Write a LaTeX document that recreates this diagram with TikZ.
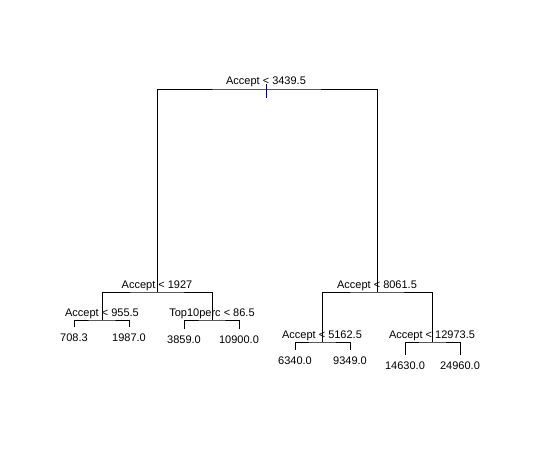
\documentclass[tikz,border=0pt]{standalone}
\usepackage{fontspec}
\setmainfont{Liberation Sans}
\usepackage{tikz}
\usetikzlibrary{positioning}

\begin{document}
\begin{tikzpicture}[
  x=1pt, y=-1pt,
  split/.style={anchor=base, inner sep=0pt, font=\fontsize{11}{13}\selectfont, yshift=4pt},
  leaf/.style={anchor=base, inner sep=0pt, font=\fontsize{11}{13}\selectfont, yshift=-14pt},
  edge/.style={line width=0.9pt, black},
]
\useasboundingbox (0,0) rectangle (535,465);
% split points
\coordinate (root) at (266,89);
\coordinate (lo)   at (157,292);
\coordinate (hi)   at (377,292);
\coordinate (lolo) at (102,320);
\coordinate (lohi) at (212,320);
\coordinate (hilo) at (322,342);
\coordinate (hihi) at (432,342);
% leaf ends
\coordinate (f1) at (74,327);
\coordinate (f2) at (129,327);
\coordinate (f3) at (184,329);
\coordinate (f4) at (239,329);
\coordinate (f5) at (295,350);
\coordinate (f6) at (350,350);
\coordinate (f7) at (405,355);
\coordinate (f8) at (460,355);
% branches
\draw[edge] (lo) |- (root) -| (hi);
\draw[edge] (lolo) |- (lo) -| (lohi);
\draw[edge] (hilo) |- (hi) -| (hihi);
\draw[edge] (f1) |- (lolo) -| (f2);
\draw[edge] (f3) |- (lohi) -| (f4);
\draw[edge] (f5) |- (hilo) -| (f6);
\draw[edge] (f7) |- (hihi) -| (f8);
% split labels
\node[split] (troot) at (root) {Accept < 3439.5};
\node[split] (tlo)   at (lo)   {Accept < 1927};
\node[split] (thi)   at (hi)   {Accept < 8061.5};
\node[split] (tlolo) at (lolo) {Accept < 955.5};
\node[split] (tlohi) at (lohi) {Top10perc < 86.5};
\node[split] (thilo) at (hilo) {Accept < 5162.5};
\node[split] (thihi) at (hihi) {Accept < 12973.5};
\draw[line width=0.9pt, blue!40!black] ([yshift=5pt]root) -- ([yshift=-9pt]root);
% leaf labels
\node[leaf] (v1) at (f1) {708.3};
\node[leaf] (v2) at (f2) {1987.0};
\node[leaf] (v3) at (f3) {3859.0};
\node[leaf] (v4) at (f4) {10900.0};
\node[leaf] (v5) at (f5) {6340.0};
\node[leaf] (v6) at (f6) {9349.0};
\node[leaf] (v7) at (f7) {14630.0};
\node[leaf] (v8) at (f8) {24960.0};
\end{tikzpicture}
\end{document}
